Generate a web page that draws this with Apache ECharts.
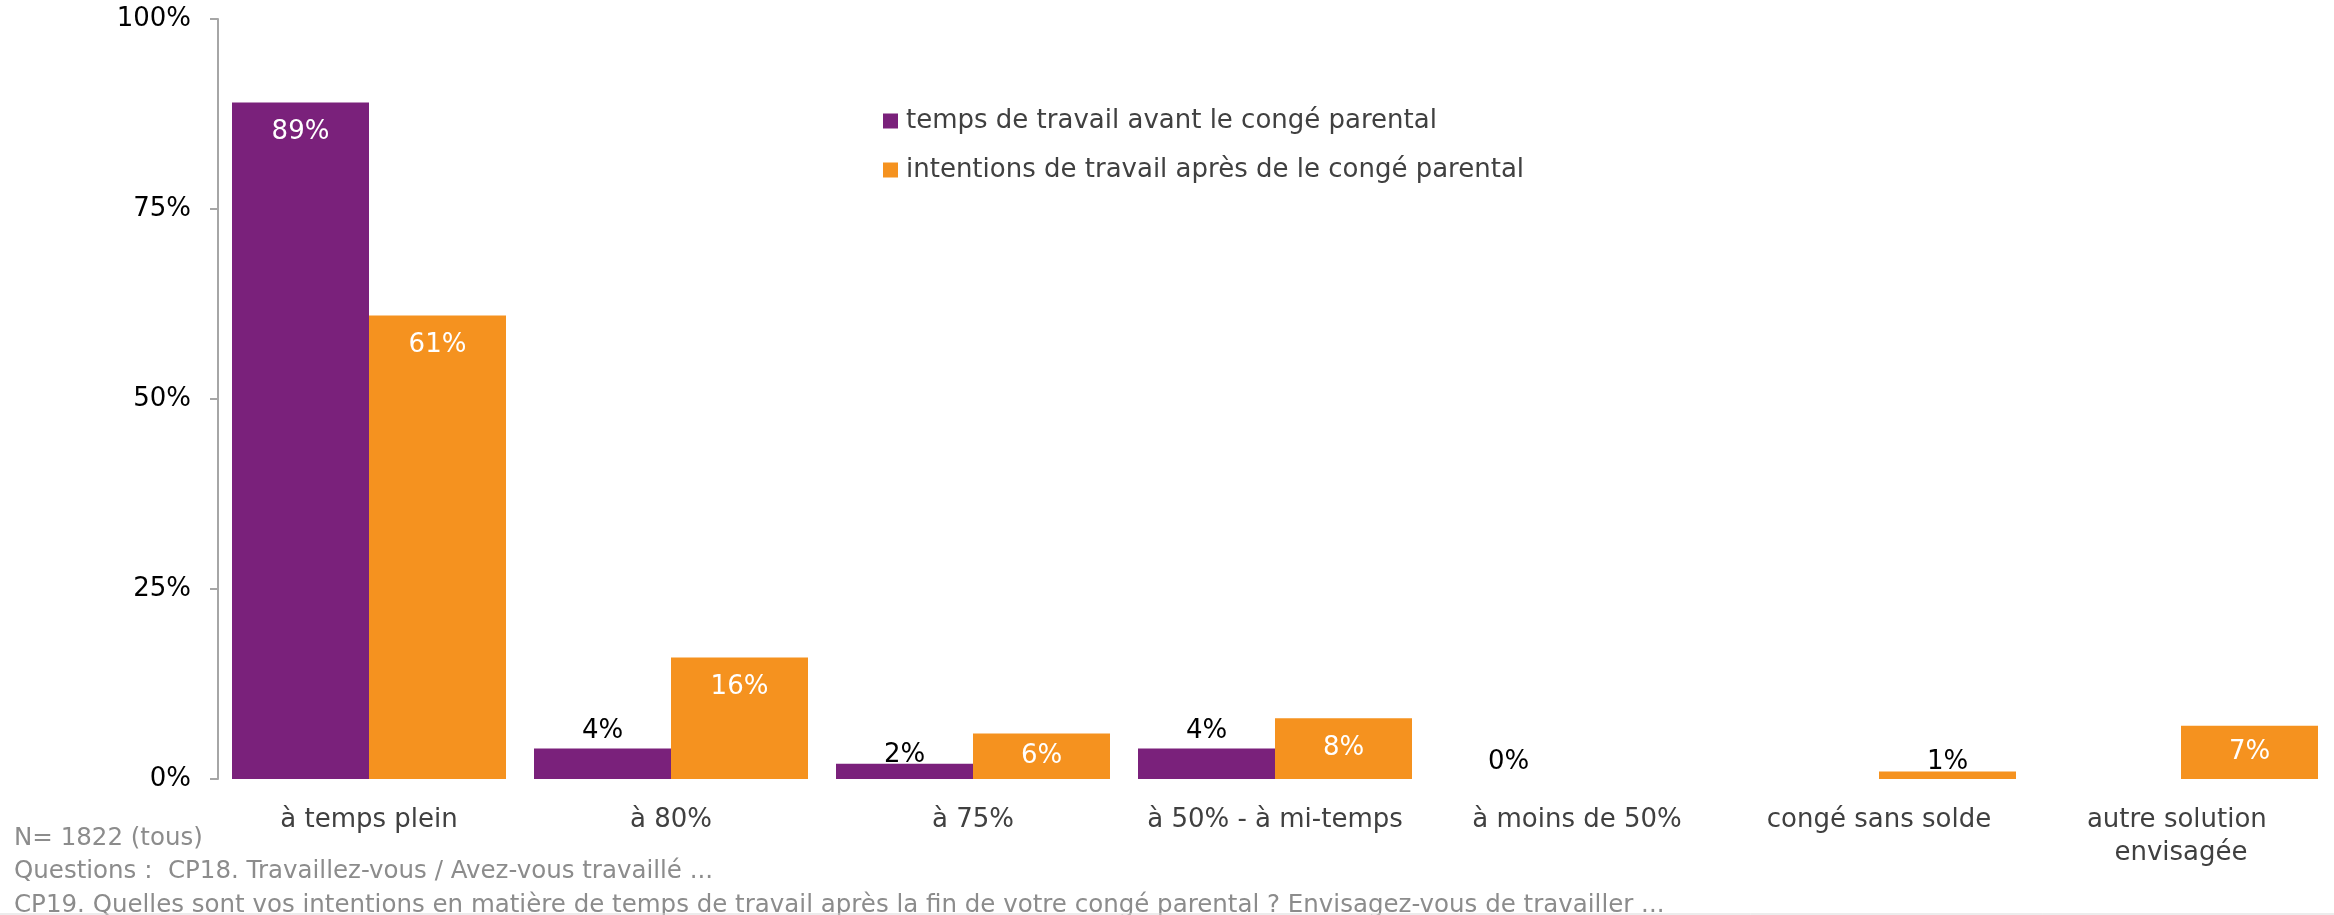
<!DOCTYPE html>
<html>
<head>
<meta charset="utf-8">
<title>Temps de travail avant / après le congé parental</title>
<script src="https://cdn.jsdelivr.net/npm/echarts@6/dist/echarts.min.js"></script>
<style>
  html, body { margin: 0; padding: 0; background: #fff; }
  #main { width: 2334px; height: 915px; }
</style>
</head>
<body>
<div id="main"></div>
<script>
"use strict";

// categories + values (null = no bar)
var categories = ['à temps plein', 'à 80%', 'à 75%', 'à 50% - à mi-temps', 'à moins de 50%', 'congé sans solde', 'autre solution envisagée'];
var avantConge = [89, 4, 2, 4, 0, null, null];
var apresConge = [61, 16, 6, 8, null, 1, 7];
var seriesNames = ['temps de travail avant le congé parental', 'intentions de travail après de le congé parental'];
var yTicks = [0, 25, 50, 75, 100];
var footnotes = [
    'N= 1822 (tous)',
    'Questions :  CP18. Travaillez-vous / Avez-vous travaillé ...',
    'CP19. Quelles sont vos intentions en matière de temps de travail après la fin de votre congé parental ? Envisagez-vous de travailler ...'
];

var FONT = '"DejaVu Sans", Verdana, sans-serif';

// Excel-like labels: big bars get white text inside, small ones black text on top
function barData(values) {
    return values.map(function(v) {
        if (v === null) return '-';
        var lbl;
        if (v >= 10) {
            lbl = {position: 'insideTop', distance: 17, color: '#ffffff'};
        } else if (v >= 5) {
            lbl = {position: 'inside', color: '#ffffff'};
        } else {
            lbl = {position: 'top', distance: v > 0 && v < 3 ? -4 : 4, color: '#000000'};
        }
        return {value: v, label: lbl};
    });
}

var myChart = echarts.init(document.getElementById('main'));

var option = {
    animation: false,
    color: ['#7A217B', '#F5921F'],
    textStyle: {fontFamily: FONT},
    grid: {
        left: 218,
        right: 2,
        top: 19,
        bottom: 136,
        containLabel: false
    },
    legend: {
        orient: 'vertical',
        left: 878,
        top: 103,
        itemWidth: 15,
        itemHeight: 15,
        itemGap: 23,
        icon: 'rect',
        textStyle: {
            fontFamily: FONT,
            fontSize: 26,
            color: '#404040',
            padding: [0, 0, 0, 3]
        },
        data: seriesNames
    },
    xAxis: {
        type: 'category',
        data: categories,
        axisLine: {show: false},
        axisTick: {show: false},
        axisLabel: {
            interval: 0,
            margin: 25,
            fontFamily: FONT,
            fontSize: 26,
            color: '#404040',
            lineHeight: 33,
            width: 292,
            overflow: 'break'
        }
    },
    yAxis: {
        type: 'value',
        min: yTicks[0],
        max: yTicks[yTicks.length - 1],
        interval: 25,
        axisLine: {show: true, lineStyle: {color: '#A6A6A6', width: 2}},
        axisTick: {show: true, length: 8, lineStyle: {color: '#A6A6A6', width: 2}},
        splitLine: {show: false},
        axisLabel: {
            margin: 27,
            fontFamily: FONT,
            fontSize: 26,
            color: '#000000',
            padding: [4, 0, 0, 0],
            formatter: function(v) { return v + '%'; }
        }
    },
    series: [
        {
            name: seriesNames[0],
            type: 'bar',
            barWidth: 137,
            barGap: '0%',
            data: barData(avantConge),
            label: {
                show: true,
                fontFamily: FONT,
                fontSize: 26,
                formatter: '{c}%'
            }
        },
        {
            name: seriesNames[1],
            type: 'bar',
            barWidth: 137,
            barGap: '0%',
            data: barData(apresConge),
            label: {
                show: true,
                fontFamily: FONT,
                fontSize: 26,
                formatter: '{c}%'
            }
        }
    ],
    graphic: footnotes.map(function(t, i) {
        return {
            type: 'text',
            left: 14,
            top: 826 + i * 33.5,
            style: {
                text: t,
                fontFamily: FONT,
                fontSize: 24.5,
                fill: '#8C8C8C'
            }
        };
    }).concat([{
        type: 'line',
        shape: {x1: 0, y1: 914, x2: 2334, y2: 914},
        style: {stroke: '#D9D9D9', lineWidth: 1}
    }])
};

myChart.setOption(option);
</script>
</body>
</html>
